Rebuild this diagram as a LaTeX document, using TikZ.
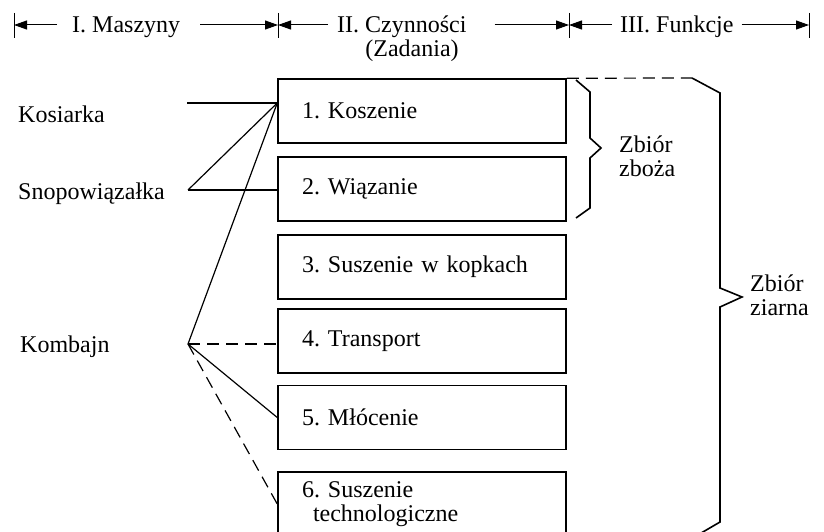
\documentclass[tikz,border=0pt]{standalone}
\usepackage{fontspec}
\setmainfont{Liberation Serif}
\usetikzlibrary{arrows.meta,positioning}

\begin{document}
\frenchspacing
\begin{tikzpicture}[
  x=1pt, y=-1pt,
  txt/.style={inner sep=0pt, font=\fontsize{24}{24}\selectfont},
  task/.style={rectangle, draw=black, line width=1.5pt, minimum width=288pt,
               minimum height=64pt, text width=240pt, inner xsep=24pt,
               inner ysep=0pt, align=left, font=\fontsize{24}{24}\selectfont},
  link/.style={line width=1.2pt},
  dlink/.style={link, dash pattern=on 12pt off 7pt},
  brace/.style={line width=1.6pt, line join=miter},
  dimarr/.style={-{Triangle[length=13pt,width=9pt]}, line width=1pt}
]
\useasboundingbox (0,0) rectangle (824,532);
\clip (0,0) rectangle (824,532);

\coordinate (b0) at (14,25);
\coordinate (b1) at (278,25);
\coordinate (b2) at (569,25);
\coordinate (b3) at (809,25);
\foreach \b in {b0,b1,b2,b3}
  \draw[line width=1pt] ([yshift=12pt]\b) -- ([yshift=-13pt]\b);

\node[txt, anchor=base west] (hM) at (72,33) {I. Maszyny};
\node[txt, anchor=base west] (hC) at (337,33) {II. Czynności};
\node[txt, anchor=base] (hZ) at (412,57) {(Zadania)};
\node[txt, anchor=base west] (hF) at (620,33) {III. Funkcje};
\draw[dimarr] (hM.west |- b0) ++(-15,0) -- (b0);
\draw[dimarr] (hM.east |- b0) ++(20,0) -- (b1);
\draw[dimarr] (hC.west |- b0) ++(-9,0) -- (b1);
\draw[dimarr] (hC.east |- b0) ++(28,0) -- (b2);
\draw[dimarr] (hF.west |- b0) ++(-8,0) -- (b2);
\draw[dimarr] (hF.east |- b0) ++(8,0) -- (b3);

\node[task] (t1) at (422,111) {1. Koszenie};
\node[task] (t2) at (422,189) {2. Wiązanie};
\node[task] (t3) at (422,267) {3. Suszenie w kopkach};
\node[task] (t4) at (422,341) {4. Transport};
\node[task] (t5) at (422,417.5) {5. Młócenie};
\node[task] (t6) at (422,504) {6. Suszenie\\\hspace*{11pt}technologiczne};

\node[txt, anchor=base west] (kos) at (18,123) {Kosiarka};
\node[txt, anchor=base west] (sno) at (18,199) {Snopowiązałka};
\node[txt, anchor=base west] (kom) at (20,352) {Kombajn};
\coordinate (kosP) at (187,103);
\coordinate (snoP) at (188,190);
\coordinate (komP) at (188,344);

\draw[link] (kosP) -- (t1.west |- kosP);
\draw[link] (snoP) -- (t1.west |- kosP);
\draw[link] (snoP) -- (t2.west |- snoP);
\draw[link] (komP) -- (t1.west |- kosP);
\draw[dlink] (komP) -- (t4.west |- komP);
\draw[link] (komP) -- (t5.west);
\draw[dlink] (komP) -- (t6.west);

\coordinate (zTop) at (692,78);
\draw[dlink] (t1.north east) -- (zTop);
\draw[brace] (zTop) -- (720,93) -- (720,288) -- (742,297) -- (720,307) -- (720,522) -- (696,536);
\draw[brace] (576,80) -- (590,92) -- (590,138) -- (601,148) -- (590,158) -- (590,208) -- (576,218);
\node[txt, align=left, anchor=west] (zz) at (619,156) {Zbiór\\zboża};
\node[txt, align=left, anchor=west] (zi) at (750,295) {Zbiór\\ziarna};
\end{tikzpicture}
\end{document}
